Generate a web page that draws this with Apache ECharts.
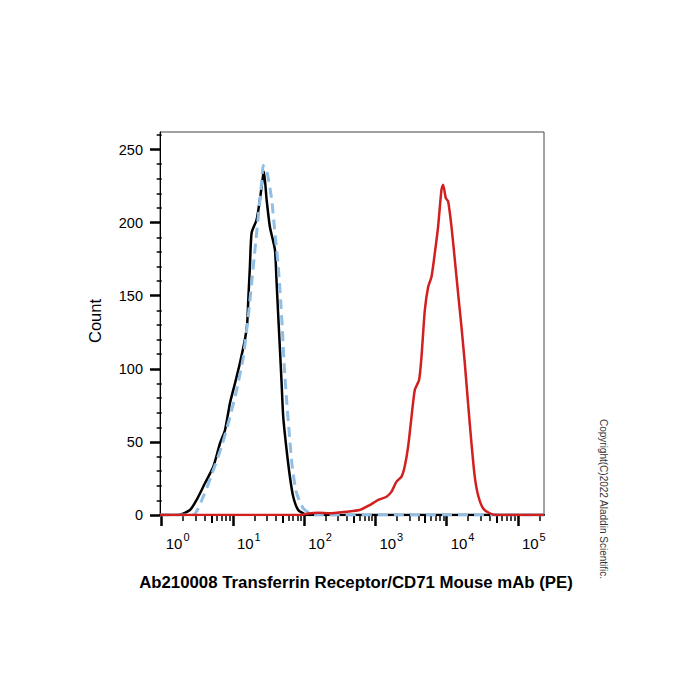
<!DOCTYPE html>
<html><head><meta charset="utf-8">
<script src="https://cdn.jsdelivr.net/npm/echarts@6/dist/echarts.min.js"></script>
<style>html,body{margin:0;padding:0;background:#fff}#chart{width:700px;height:700px}</style>
</head><body><div id="chart"></div>
<script>
// ---- axis extents (x in log10 units of fluorescence) ----
const xMinLog = -0.024;
const xMaxLog = 5.366;
const yMax = 262;
const decadeExponents = [0, 1, 2, 3, 4, 5];
const yTickValues = [0, 50, 100, 150, 200, 250];
const yMinorTickValues = [10, 20, 30, 40, 60, 70, 80, 90, 110, 120, 130, 140, 160, 170, 180, 190, 210, 220, 230, 240, 260];
const titleText = 'Ab210008 Transferrin Receptor/CD71 Mouse mAb (PE)';
const yAxisTitle = 'Count';
const copyrightText = 'Copyright(C)2022 Aladdin Scientific.';

// ---- histogram curves: [log10(intensity), count] ----
const unstainedCurve = [
  [-0.024, 0], [0.233, 0], [0.397, 3.4], [0.49, 10.3], [0.607, 21.7], [0.724, 33], [0.818, 49], [0.888, 58],
  [0.958, 76.5], [1.028, 90], [1.098, 104], [1.168, 120], [1.2, 131], [1.215, 147], [1.238, 170], [1.262, 193],
  [1.332, 202], [1.379, 216], [1.425, 233], [1.435, 235], [1.472, 216], [1.519, 197], [1.589, 181.5],
  [1.613, 158.7], [1.636, 136], [1.66, 113], [1.683, 90], [1.706, 67], [1.753, 44.5], [1.8, 26], [1.846, 12.5],
  [1.916, 3.4], [2.01, 0.5], [2.06, 0], [5.366, 0]
];
const isotypeCurve = [
  [-0.024, 0], [0.44, 0], [0.583, 12.5], [0.7, 27.4], [0.84, 46.8], [0.958, 67], [1.052, 85.6], [1.145, 108],
  [1.215, 136], [1.262, 158.7], [1.309, 181.5], [1.355, 204], [1.402, 227], [1.425, 239], [1.472, 236],
  [1.543, 216], [1.589, 193], [1.636, 170], [1.669, 147], [1.697, 124], [1.72, 101.6], [1.753, 78.8],
  [1.79, 56], [1.832, 33], [1.893, 14.9], [1.986, 4.6], [2.08, 1.2], [2.15, 0], [5.366, 0]
];
const cd71Curve = [
  [-0.024, 0], [1.95, 0], [2.05, 1], [2.2, 1.5], [2.36, 1.2], [2.595, 2.3], [2.78, 3.4], [2.92, 6.8],
  [3.04, 10.3], [3.155, 12.5], [3.226, 16], [3.296, 22.8], [3.366, 26.2], [3.41, 33], [3.459, 46.8],
  [3.506, 67], [3.553, 85.6], [3.613, 92.5], [3.646, 108], [3.693, 140], [3.74, 156], [3.787, 163],
  [3.833, 179], [3.88, 197.5], [3.927, 222.6], [3.95, 226], [3.987, 217], [4.02, 214.6], [4.067, 197.5],
  [4.114, 174.7], [4.16, 151.8], [4.207, 129], [4.254, 104], [4.3, 76.5], [4.348, 49], [4.394, 26.2],
  [4.44, 13.7], [4.51, 4.6], [4.605, 1.2], [4.7, 0], [5.366, 0]
];

// log-decade tick positions (2..9 x 10^n)
const midTicks = [];
const minorTicks = [];
decadeExponents.forEach(function (n) {
  for (let k = 2; k <= 9; k++) {
    const v = n + Math.log10(k);
    if (v > xMaxLog) continue;
    if (k === 5) midTicks.push(v); else minorTicks.push(v);
  }
});

const FONT = '"Liberation Sans", Arial, sans-serif';
const chart = echarts.init(document.getElementById('chart'), null, { renderer: 'svg' });

function xAxisBase(extra) {
  return Object.assign({
    type: 'value', min: xMinLog, max: xMaxLog, position: 'bottom', gridIndex: 0,
    splitLine: { show: false }, axisLabel: { show: false }, axisLine: { show: false }
  }, extra);
}

chart.setOption({
  animation: false,
  backgroundColor: '#fff',
  grid: { left: 160, top: 132, right: 156, bottom: 185, show: true, borderColor: '#444', borderWidth: 1 },
  xAxis: [
    xAxisBase({
      axisLine: { show: true, onZero: false, lineStyle: { color: '#000', width: 2 } },
      axisTick: { show: true, customValues: decadeExponents, length: 11, lineStyle: { color: '#000', width: 2.5 } },
      axisLabel: {
        show: true, customValues: decadeExponents, align: 'left', margin: 16,
        formatter: function (v) { return '{b|10}{s|' + Math.round(v) + '}'; },
        rich: {
          b: { fontSize: 15, fontFamily: FONT, color: '#000', verticalAlign: 'bottom', padding: [0, 0, 0, 4] },
          s: { fontSize: 11, fontFamily: FONT, color: '#000', verticalAlign: 'bottom', padding: [0, 0, 9, 1] }
        }
      }
    }),
    xAxisBase({ axisTick: { show: true, customValues: midTicks, length: 8, lineStyle: { color: '#000', width: 2 } } }),
    xAxisBase({ axisTick: { show: true, customValues: minorTicks, length: 6, lineStyle: { color: '#000', width: 1.5 } } })
  ],
  yAxis: [
    {
      type: 'value', min: 0, max: yMax, position: 'left',
      axisLine: { show: true, onZero: false, lineStyle: { color: '#000', width: 1 } },
      axisTick: { show: true, customValues: yTickValues, length: 10, lineStyle: { color: '#000', width: 2.5 } },
      axisLabel: { customValues: yTickValues, fontSize: 14.5, fontFamily: FONT, color: '#000', margin: 17 },
      splitLine: { show: false }
    },
    {
      type: 'value', min: 0, max: yMax, position: 'left',
      axisLine: { show: false },
      axisTick: { show: true, customValues: yMinorTickValues, length: 5, lineStyle: { color: '#000', width: 1.5 } },
      axisLabel: { show: false },
      splitLine: { show: false }
    }
  ],
  series: [
    { type: 'line', data: unstainedCurve, showSymbol: false, symbol: 'none', smooth: 0.2,
      lineStyle: { color: '#000', width: 2.5 }, z: 2 },
    { type: 'line', data: isotypeCurve, showSymbol: false, symbol: 'none', smooth: 0.2,
      lineStyle: { color: '#8fbfe6', width: 3, type: [10, 6] }, z: 3 },
    { type: 'line', data: cd71Curve, showSymbol: false, symbol: 'none', smooth: 0.2,
      lineStyle: { color: '#d21f1f', width: 2.5 }, z: 4 }
  ],
  graphic: [
    { type: 'text', x: 356, y: 582, style: { text: titleText, font: 'bold 16.8px ' + FONT, fill: '#000', align: 'center', verticalAlign: 'middle' } },
    { type: 'text', x: 95, y: 321, rotation: Math.PI / 2, style: { text: yAxisTitle, font: '16.5px ' + FONT, fill: '#000', align: 'center', verticalAlign: 'middle' } },
    { type: 'text', x: 603, y: 499, rotation: -Math.PI / 2, style: { text: copyrightText, font: '10px ' + FONT, fill: '#333', align: 'center', verticalAlign: 'middle' } }
  ]
});
</script>
</body></html>
